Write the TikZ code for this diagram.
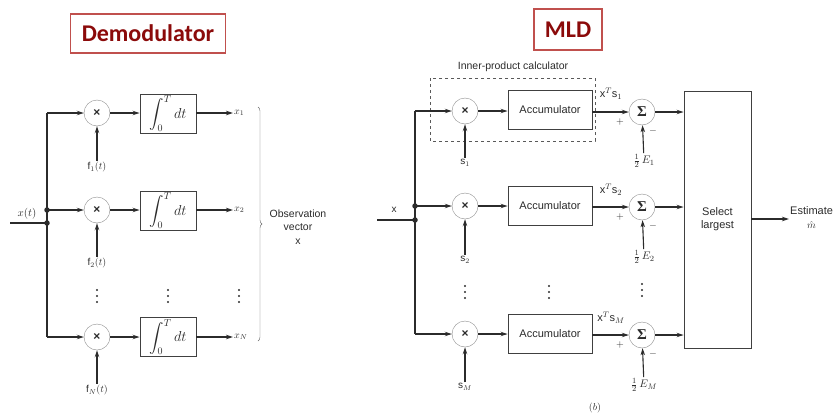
\documentclass[tikz,border=0pt]{standalone}
\usepackage{amsmath}
\usepackage{fontspec}
\setmainfont{Liberation Sans}
\newfontfamily\titlefont{Carlito}
\newfontfamily\symfont{Liberation Serif}
\usepackage{tikz}
\usetikzlibrary{positioning, arrows.meta, decorations.pathreplacing, calc}

\definecolor{titlered}{HTML}{8B0A0A}
\definecolor{titleframe}{HTML}{C0504D}
\definecolor{wire}{HTML}{2B2B2B}

\begin{document}
\begin{tikzpicture}[
            x=1pt, y=-1pt,
            title/.style={draw=titleframe, line width=1.6pt, fill=white, text=titlered, font=\titlefont\bfseries\fontsize{24}{26}\selectfont, inner sep=0pt},
            mult/.style={circle, draw=black!45, fill=white, minimum size=26pt, inner sep=0pt, font=\bfseries\fontsize{12}{12}\selectfont, text=wire},
            adder/.style={circle, draw=black!45, fill=white, minimum size=26pt, inner sep=0pt, font=\symfont\bfseries\fontsize{15}{15}\selectfont, text=wire},
            blk/.style={rectangle, draw=black!75, line width=0.9pt, fill=white, inner sep=0pt, text=wire},
            lbl/.style={font=\fontsize{10}{11}\selectfont, text=wire, inner sep=1pt},
            sgn/.style={font=\fontsize{10}{10}\selectfont, text=wire, inner sep=1pt},
            sig/.style={-{Stealth[length=7pt, width=4.5pt]}, line width=1.1pt, draw=wire},
            bus/.style={line width=1.1pt, draw=wire},
            junction/.style={circle, fill=wire, minimum size=5.5pt, inner sep=0pt}
            ]

            \useasboundingbox (0,0) rectangle (837,415);

            % Titles
            \node[title, minimum width=155pt, minimum height=39pt] (demod) at (148,33.5) {Demodulator};
            \node[title, minimum width=68pt, minimum height=41pt] (mld) at (568,29.5) {MLD};

            %%%%%%%% Demodulator (correlator bank)
            % Bus and input
            \coordinate (lb1) at (47,113);
            \coordinate (lb2) at (47,210);
            \coordinate (lbN) at (47,337);
            \coordinate (lin) at (10,223);
            \coordinate (ljn) at (47,223);
            \draw[bus] (lb1) -- (lbN);
            \draw[bus] (lin) -- (ljn);
            \node[junction] at (lb2) {};
            \node[junction] at (ljn) {};
            \node[lbl, font=\fontsize{11}{11}\selectfont] (xt) at (27,214) {$x(t)$};

            % Multipliers
            \node[mult] (m1) at (97,113) {×};
            \node[mult] (m2) at (97,210) {×};
            \node[mult] (mN) at (97,337) {×};

            % Integrators
            \node[blk, minimum width=56pt, minimum height=39pt, font=\fontsize{14}{14}\selectfont] (i1) at (168,113.5) {$\displaystyle\int_0^T dt$};
            \node[blk, minimum width=56pt, minimum height=39pt, font=\fontsize{14}{14}\selectfont] (i2) at (168,210.5) {$\displaystyle\int_0^T dt$};
            \node[blk, minimum width=56pt, minimum height=39pt, font=\fontsize{14}{14}\selectfont] (iN) at (168,337) {$\displaystyle\int_0^T dt$};

            % Outputs
            \node[lbl, anchor=west] (o1) at (233,113) {$x_1$};
            \node[lbl, anchor=west] (o2) at (233,210) {$x_2$};
            \node[lbl, anchor=west] (oN) at (233,337) {$x_N$};

            % Basis functions
            \node[lbl] (f1) at (97,167) {$\mathrm{f}_1(t)$};
            \node[lbl] (f2) at (97,263) {$\mathrm{f}_2(t)$};
            \node[lbl] (fN) at (97,390) {$\mathrm{f}_N(t)$};

            \draw[sig] (lb1) -- (m1);
            \draw[sig] (lb2) -- (m2);
            \draw[sig] (lbN) -- (mN);
            \draw[sig] (m1) -- (i1.west |- m1);
            \draw[sig] (m2) -- (i2.west |- m2);
            \draw[sig] (mN) -- (iN);
            \draw[sig] (i1.east |- m1) -- (o1);
            \draw[sig] (i2.east |- m2) -- (o2);
            \draw[sig] (iN) -- (oN);
            \draw[sig] (f1) -- (m1);
            \draw[sig] (f2) -- (m2);
            \draw[sig] (fN) -- (mN);

            % Dots
            \foreach \dx in {97,168,239}
                \foreach \dy in {-6,0,6}
                    \fill[wire] (\dx,296+\dy) circle (1.2);

            % Observation vector
            \draw[draw=black!60, decorate, decoration={brace, amplitude=4pt}] (258,107) -- (258,341);
            \node[lbl, align=center, font=\fontsize{10.5}{13.5}\selectfont] (obs) at (298,227) {Observation\\vector\\x};

            %%%%%%%% MLD
            % Bus and input
            \coordinate (rb1) at (415,111);
            \coordinate (rb2) at (415,206);
            \coordinate (rbM) at (415,334);
            \coordinate (rin) at (377,220);
            \coordinate (rjn) at (415,220);
            \draw[bus] (rb1) -- (rbM);
            \draw[bus] (rin) -- (rjn);
            \node[junction] at (rb2) {};
            \node[junction] at (rjn) {};
            \node[lbl] (xin) at (394,210) {x};

            % Inner-product calculator frame
            \draw[dashed, draw=black!65, line width=0.9pt] (430,78) rectangle (595,141);
            \node[lbl, font=\fontsize{10.5}{11}\selectfont] (ipc) at (513,67) {Inner-product calculator};

            % Multipliers
            \node[mult] (n1) at (465,111) {×};
            \node[mult] (n2) at (465,206) {×};
            \node[mult] (nM) at (465,334) {×};

            % Accumulators
            \node[blk, minimum width=84pt, minimum height=39pt, font=\fontsize{11}{11}\selectfont] (a1) at (550,110) {Accumulator};
            \node[blk, minimum width=84pt, minimum height=39pt, font=\fontsize{11}{11}\selectfont] (a2) at (550,206) {Accumulator};
            \node[blk, minimum width=84pt, minimum height=39pt, font=\fontsize{11}{11}\selectfont] (aM) at (550,334) {Accumulator};

            % Adders
            \node[adder] (s1) at (642,112) {Σ};
            \node[adder] (s2) at (642,207) {Σ};
            \node[adder] (sM) at (642,335) {Σ};

            % Signal vectors
            \node[lbl] (v1) at (465,163) {$\mathrm{s}_1$};
            \node[lbl] (v2) at (465,260) {$\mathrm{s}_2$};
            \node[lbl] (vM) at (465,387) {$\mathrm{s}_M$};

            % Energy terms
            \node[lbl, font=\fontsize{11}{11}\selectfont] (e1) at (644,161) {$\frac{1}{2}\,E_1$};
            \node[lbl, font=\fontsize{11}{11}\selectfont] (e2) at (644,257) {$\frac{1}{2}\,E_2$};
            \node[lbl, font=\fontsize{11}{11}\selectfont] (eM) at (644,385) {$\frac{1}{2}\,E_M$};

            % Decision block
            \node[blk, minimum width=67pt, minimum height=257pt, align=center, font=\fontsize{11}{13}\selectfont] (sel) at (717.5,219.5) {Select\\largest};
            \node[lbl, anchor=west, font=\fontsize{11}{11}\selectfont] (est) at (789,211) {Estimate};
            \node[lbl, font=\fontsize{10}{10}\selectfont, anchor=north, inner sep=0pt] (mhat) at ([yshift=-5pt]est.south) {$\hat{m}$};

            \draw[sig] (rb1) -- (n1);
            \draw[sig] (rb2) -- (n2);
            \draw[sig] (rbM) -- (nM);
            \draw[sig] (n1) -- (n1 -| a1.west);
            \draw[sig] (n2) -- (a2);
            \draw[sig] (nM) -- (aM);
            \draw[sig] (v1) -- (n1);
            \draw[sig] (v2) -- (n2);
            \draw[sig] (vM) -- (nM);
            \draw[sig] (a1.east |- s1) -- (s1);
            \draw[sig] (a2.east |- s2) -- (s2);
            \draw[sig] (aM.east |- sM) -- (sM);
            \draw[sig] (e1) -- (s1);
            \draw[sig] (e2) -- (s2);
            \draw[sig] (eM) -- (sM);
            \draw[sig] (s1) -- (s1 -| sel.west);
            \draw[sig] (s2) -- (s2 -| sel.west);
            \draw[sig] (sM) -- (sM -| sel.west);
            \draw[sig] (sel.east |- 0,219) -- (789,219);

            % Inner products and signs
            \node[lbl, font=\fontsize{11}{11}\selectfont] (p1) at (611,94) {$\mathrm{x}^T\mathrm{s}_1$};
            \node[lbl, font=\fontsize{11}{11}\selectfont] (p2) at (611,190) {$\mathrm{x}^T\mathrm{s}_2$};
            \node[lbl, font=\fontsize{11}{11}\selectfont] (pM) at (611,318) {$\mathrm{x}^T\mathrm{s}_M$};
            \node[sgn] at (620,122) {$+$};
            \node[sgn] at (620,217) {$+$};
            \node[sgn] at (620,345) {$+$};
            \node[sgn] at (653,131) {$-$};
            \node[sgn] at (653,226) {$-$};
            \node[sgn] at (653,354) {$-$};

            % Dots
            \foreach \dx/\dy in {465/292,549/292,642/290}
                \foreach \dd in {-6,0,6}
                    \fill[wire] (\dx,\dy+\dd) circle (1.2);

            \node[lbl, font=\fontsize{10}{10}\selectfont] (tag) at (595,408) {$(b)$};

        \end{tikzpicture}
\end{document}
